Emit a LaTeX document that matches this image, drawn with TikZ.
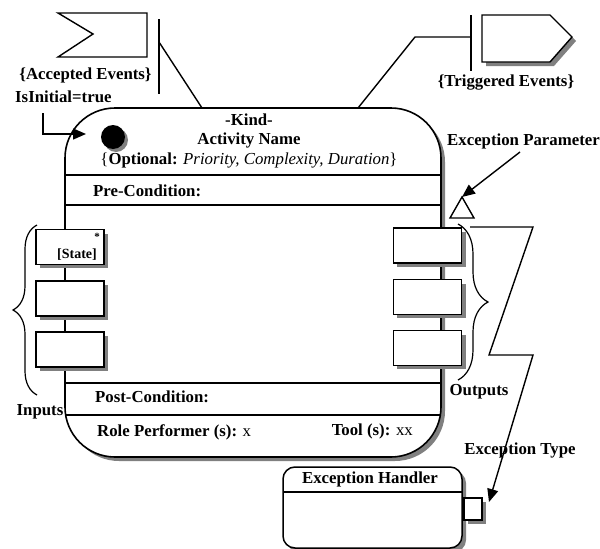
\documentclass[tikz,border=0pt]{standalone}
\usepackage{fontspec}
\setmainfont{Liberation Serif}
\usetikzlibrary{arrows.meta,decorations.pathreplacing}

\begin{document}
\begin{tikzpicture}[x=1pt,y=-1pt]
    \tikzset{%
      txt/.style={font=\fontsize{16.8}{18}\selectfont\bfseries, inner sep=0pt},
      small/.style={font=\fontsize{14}{15}\selectfont\bfseries, inner sep=0pt},
      back/.style={fill=black!50},
      actbox/.style={draw, line width=1.6pt, rounded corners=50pt,
        fill=white, minimum width=376pt, minimum height=349pt},
      pinbox/.style={draw, line width=1.4pt, fill=white,
        minimum width=68pt, minimum height=35pt, inner sep=0pt},
      hdlbox/.style={draw, line width=1.5pt, rounded corners=12pt,
        fill=white, minimum width=179pt, minimum height=81pt},
      portbox/.style={draw, line width=1.4pt, fill=white, minimum width=18pt,
        minimum height=22pt, inner sep=0pt},
      wire/.style={line width=1.4pt},
      tip/.style={-{Triangle[length=13pt,width=11pt]}},
      curly/.style={line width=1.2pt, decorate,
        decoration={brace, amplitude=#1}},
      curly/.default=24pt,
    }
    \useasboundingbox (0,0) rectangle (600,549);
    % the activity
    \fill [back, rounded corners=50pt] (69,112) rectangle (445,461);
    \node[actbox] (act) at (253,282.5) {};
    \draw [wire] (65,175) -- (441,175);
    \draw [wire] (65,205) -- (441,205);
    \draw [wire] (65,383) -- (441,383);
    \draw [wire] (65,415) -- (441,415);

    \fill [back] (116,140) circle (12);
    \node[circle, fill=black, minimum size=24pt, inner sep=0pt]
      (start) at (113,137) {};

    \node[txt] (kind) at (249,120) {-Kind-};
    \node[txt] (name) at (249,140) {Activity Name};
    \node[txt] (opt) at (249,160) {\mdseries\{\bfseries Optional:
      \mdseries\itshape Priority, Complexity, Duration\upshape\}};
    \node[txt, anchor=west] (pre) at (93,191) {Pre-Condition:};
    \node[txt, anchor=west] (post) at (95,397) {Post-Condition:};
    \node[txt, anchor=west] (role) at (97,432) {Role Performer (s):
      \mdseries x};
    \node[txt, anchor=east] (tool) at (413,431) {Tool (s): \mdseries xx};

    % inputs
    \fill [back] (40,234) rectangle (108,268);
    \node[pinbox] (in1) at (70,247) {};
    \node[small, anchor=east] (state) at (97,255) {[State]};
    \node[font=\fontsize{11}{12}\selectfont\bfseries, inner sep=0pt]
      (mult) at (97,237) {*};
    \fill [back] (40,285) rectangle (108,320);
    \node[pinbox] (in2) at (70,298.5) {};
    \fill [back] (40,336) rectangle (108,371);
    \node[pinbox] (in3) at (70,349.5) {};
    \draw [curly] (37,395) -- (37,225);
    \node[txt] (inputs) at (40,412) {Inputs};

    % outputs
    \fill [back] (397,232) rectangle (466,267);
    \node[pinbox] (out1) at (427.5,245.5) {};
    \fill [back] (397,284) rectangle (466,318);
    \node[pinbox] (out2) at (427.5,297) {};
    \fill [back] (397,335) rectangle (466,369);
    \node[pinbox] (out3) at (427.5,348) {};
    \draw [curly=30pt] (458,224) -- (458,380);
    \node[txt] (outputs) at (479,392) {Outputs};

    % accepted events
    \draw [wire] (58,13) -- (147,13) -- (147,57) -- (58,57) -- (93,34)
      -- cycle;
    \coordinate (accA) at (159,19);
    \coordinate (accB) at (159,94);
    \draw [wire] (accA) -- (accB);
    \coordinate (accC) at (159,42);
    \coordinate (accD) at (202,108);
    \draw [wire] (accC) -- (accD);
    \node[txt] (acc) at (85.5,75) {\{Accepted Events\}};

    % initial
    \node[txt, anchor=west] (init) at (15,97) {IsInitial=true};
    \coordinate (iniA) at (43,113);
    \coordinate (iniB) at (43,134);
    \coordinate (iniC) at (86,134);
    \draw [wire, tip] (iniA) -- (iniB) -- (iniC);

    % triggered events
    \fill [back] (486,19) -- (554,19) -- (576,41) -- (554,66) -- (486,66)
      -- cycle;
    \draw [wire, fill=white] (482,15) -- (550,15) -- (572,37)
      -- (550,62) -- (482,62) -- cycle;
    \coordinate (trgA) at (471,15);
    \coordinate (trgB) at (471,71);
    \draw [wire] (trgA) -- (trgB);
    \coordinate (trgC) at (471,37);
    \coordinate (trgD) at (358,108);
    \draw [wire] (trgC) -- (415,37) -- (trgD);
    \node[txt] (trg) at (506,83) {\{Triggered Events\}};

    % exception parameter
    \coordinate (tri) at (462,197);
    \draw [wire, fill=white] (tri) -- (474,218) -- (450,218) -- cycle;
    \node[txt, anchor=west] (exp) at (447,141) {Exception Parameter};
    \coordinate (expA) at (520,152);
    \draw [wire, tip] (expA) -- (tri);

    % exception handler
    \fill [back, rounded corners=12pt] (287,471) rectangle (466,552);
    \node[hdlbox] (hdl) at (372.5,507.5) {};
    \draw [wire] (283,492) -- (462,492);
    \node[txt] (hdltext) at (370,479) {Exception Handler};
    \fill [back] (468,502) rectangle (486,524);
    \node[portbox] (hport) at (473,509) {};

    % exception type
    \node[txt] (ext) at (520,450) {Exception Type};
    \coordinate (zzA) at (470,227);
    \coordinate (zzB) at (489,502);
    \draw [wire, tip] (zzA) -- (533,227) -- (489,355) -- (533,355) -- (zzB);
\end{tikzpicture}
\end{document}
